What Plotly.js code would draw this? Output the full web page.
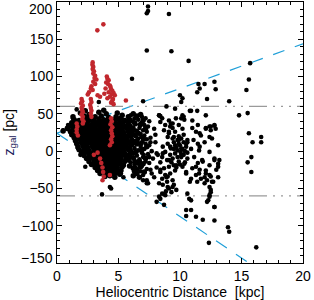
<!DOCTYPE html>
<html>
<head>
<meta charset="utf-8">
<script src="https://cdn.plot.ly/plotly-3.0.1.min.js"></script>
<style>html,body{margin:0;padding:0;background:#fff;}#chart{width:314px;height:300px;}</style>
</head>
<body>
<div id="chart"></div>
<script>
// ---- data ----
const xTicks = [0, 5, 10, 15, 20];
const xTickLabels = ['0', '5', '10', '15', '20'];
const yTicks = [-150, -100, -50, 0, 50, 100, 150, 200];
const yTickLabels = ['\u2212150', '\u2212100', '\u221250', '0', '50', '100', '150', '200'];

// boundary lines: [x, z] end points
const upperWedge = [[0, 24], [20, 144]];
const lowerWedge = [[0, 24], [16.5, -160]];
const zCut = [60, -60];

// dense black clump (heliocentric distance kpc, z pc)
const blackDense = [
[1.9,51],[2.6,49],[3.4,52],[4.0,50],[4.9,51],[5.3,48],[2.3,54],[3.8,55],
[1.3,46],[2.2,47],[2.5,45],[3.1,46],[3.6,47],[4.2,45],[4.8,46],[5.2,44],[5.8,46],
[1.4,42],[1.8,41],[2.3,43],[2.7,42],[3.0,41],[3.4,43],[3.8,42],[4.1,41],[4.7,42],[5.0,43],[5.5,41],[5.9,42],
[1.2,38],[1.6,39],[1.9,37],[2.2,38],[2.5,39],[2.9,37],[3.2,38],[3.5,39],[3.8,37],[4.1,38],[4.4,39],[4.8,37],[5.1,38],[5.4,39],[5.8,37],
[1.0,34],[1.4,35],[1.7,33],[2.0,34],[2.4,35],[2.7,33],[3.0,34],[3.3,35],[3.6,33],[3.9,34],[4.2,35],[4.6,33],[4.9,34],[5.2,35],[5.5,33],[5.9,34],
[0.9,30],[1.3,31],[1.6,29],[1.9,30],[2.2,31],[2.5,29],[2.8,30],[3.1,31],[3.4,29],[3.7,30],[4.0,31],[4.3,29],[4.7,30],[5.0,31],[5.3,29],[5.7,30],[6.0,31],
[0.5,27],[1.1,26],[1.5,27],[1.8,25],[2.1,26],[2.4,27],[2.7,25],[3.0,26],[3.3,27],[3.6,25],[3.9,26],[4.2,27],[4.5,25],[4.8,26],[5.1,27],[5.4,25],[5.8,26],
[1.2,22],[1.6,23],[1.9,21],[2.2,22],[2.5,23],[2.8,21],[3.1,22],[3.4,23],[3.7,21],[4.0,22],[4.3,23],[4.6,21],[4.9,22],[5.2,23],[5.5,21],[5.9,22],
[1.4,18],[1.7,19],[2.0,17],[2.4,18],[2.7,19],[3.0,17],[3.3,18],[3.6,19],[3.9,17],[4.2,18],[4.5,19],[4.8,17],[5.1,18],[5.4,19],[5.7,17],
[1.5,14],[1.9,15],[2.3,13],[2.6,14],[2.9,15],[3.2,13],[3.5,14],[3.8,15],[4.1,13],[4.4,14],[4.7,15],[5.0,13],[5.3,14],[5.6,15],[6.0,13],
[1.6,10],[2.0,11],[2.4,9],[2.8,10],[3.1,11],[3.4,9],[3.7,10],[4.0,11],[4.3,9],[4.6,10],[4.9,11],[5.2,9],[5.5,10],[5.8,11],
[1.7,6],[2.1,7],[2.5,5],[2.9,6],[3.2,7],[3.5,5],[3.8,6],[4.1,7],[4.4,5],[4.7,6],[5.0,7],[5.3,5],[5.6,6],
[1.8,2],[2.2,3],[2.6,1],[3.0,2],[3.3,3],[3.6,1],[3.9,2],[4.2,3],[4.5,1],[4.8,2],[5.1,3],[5.4,1],[5.8,2],
[2.0,-2],[2.4,-1],[2.8,-3],[3.1,-2],[3.4,-1],[3.7,-3],[4.0,-2],[4.3,-1],[4.6,-3],[4.9,-2],[5.2,-1],[5.5,-3],
[2.2,-6],[2.6,-5],[2.9,-7],[3.2,-6],[3.5,-5],[3.8,-7],[4.1,-6],[4.4,-5],[4.7,-7],[5.0,-6],[5.3,-5],[5.7,-7],
[2.4,-10],[2.8,-9],[3.1,-11],[3.4,-10],[3.7,-9],[4.0,-11],[4.3,-10],[4.6,-9],[4.9,-11],[5.2,-10],[5.6,-9],
[2.6,-14],[3.0,-13],[3.3,-15],[3.6,-14],[3.9,-13],[4.2,-15],[4.5,-14],[4.8,-13],[5.1,-15],[5.5,-14],
[2.8,-18],[3.2,-17],[3.5,-19],[3.8,-18],[4.1,-17],[4.4,-19],[4.7,-18],[5.0,-17],[5.4,-19],
[3.1,-22],[3.4,-21],[3.7,-23],[4.0,-22],[4.3,-21],[4.6,-23],[4.9,-22],[5.3,-21],
[3.3,-26],[3.7,-25],[4.0,-27],[4.3,-26],[4.6,-25],[4.9,-27],[5.2,-26],
[3.5,-30],[3.9,-29],[4.2,-31],[4.5,-30],[4.8,-29],[5.1,-31],
[3.9,-34],[4.3,-33],[4.7,-35],
[6.2,50],[6.5,47],[6.8,49],[7.0,41],[6.3,38],[6.8,36],[6.1,28],[6.6,24],[7.2,30],[6.3,22],[7.0,18],[6.5,14],
[6.8,10],[7.3,6],[6.2,11],[6.4,-1],[6.9,2],[7.2,-10],[6.2,-9],[6.7,-14],[6.4,-15],[7.0,-17],[6.2,-23],[6.8,-21],
[7.1,-28],[6.5,-30],[6.3,-27],[5.9,-20],[5.8,-12],[5.9,-4],[5.9,5],[6.0,20],[5.9,27],[6.2,-33],[6.7,-35]
];

// band of stars just beyond the clump (6-8 kpc)
const blackBand = [
[6.0,48],[6.3,44],[6.1,40],[6.6,42],[6.9,38],[6.4,36],[7.1,35],[6.2,32],[6.7,31],[7.0,28],[6.5,27],[7.3,26],
[6.1,24],[6.8,23],[7.1,21],[6.4,20],[6.6,17],[7.0,15],[6.2,14],[6.9,12],[7.2,10],[6.5,9],[6.8,6],[6.3,4],
[7.1,3],[6.6,1],[6.9,-2],[6.2,-3],[7.4,-4],[6.5,-6],[7.0,-8],[6.7,-11],[6.3,-12],[7.2,-14],[6.6,-17],[6.9,-20],
[6.4,-22],[7.3,-24],[6.8,-27],[7.6,-25],[7.0,-32],[7.3,-39],[7.4,-43],[7.7,-30],[6.9,46],[7.2,44],[7.5,40],
[7.4,33],[7.6,18],[7.5,8],[7.7,0],[7.8,-10],[7.5,-16],[6.1,8],[6.0,-8],[6.3,-18],[6.1,16],[6.75,34],[6.45,12],
[7.05,-5],[6.85,19],[6.35,28],[6.05,0],[6.55,-25],[6.0,-15],[7.0,-39],[5.2,-30],[5.4,-35],
[7.5,-8],[7.6,12],[7.3,16]
];

// field stars 8-13.5 kpc
const blackMid = [
[8.3,48],[8.55,44],[8.4,39],[8.8,35],[9.1,41],[9.2,33],[9.4,37],[8.7,28],[9.1,26],[10.1,44],[10.3,46],[9.9,35],
[10.2,30],[9.6,26],[9.0,19],[9.4,17],[9.8,15],[10.1,17],[10.3,12],[10.6,15],[9.9,10],[9.6,8],[9.2,6],[9.5,3],
[9.8,1],[10.2,3],[10.5,6],[10.05,-1],[9.6,-3],[9.2,-5],[8.8,-1],[8.55,-8],[8.95,-12],[9.4,-10],[9.8,-8],[10.3,-5],
[10.6,-10],[9.9,-14],[9.5,-19],[9.1,-21],[8.7,-23],[8.4,-28],[8.8,-32],[9.2,-30],[9.6,-26],[10.2,-21],[10.5,-28],
[8.55,-37],[8.95,-41],[9.4,-39],[8.3,-43],[9.1,-50],[8.55,-57],[8.8,-59],[8.4,-64],[8.1,-68],[8.7,-72],[10.5,-79],
[8.2,-5],[8.4,-15],[8.1,-22],[8.6,-45],[9.0,-48],[9.3,-55],[8.9,-35],[9.5,-45],[9.7,-52],
[7.9,30],[8.0,12],[8.1,-3],[7.9,-35],[8.0,22],
[9.7,5],[10.0,8],[10.4,0],[9.5,12],[10.1,-5],[9.9,20],[10.3,22],[10.6,-2],[9.3,-15],[10.0,-18],[9.7,-22],[10.4,-15],
[10.9,54],[11.4,54],[11.0,41],[12.1,30],[12.5,33],[12.8,34],[12.9,30],[11.3,26],[11.7,21],[11.1,15],[12.0,12],
[12.6,17],[13.1,8],[10.9,3],[11.55,1],[12.4,-1],[11.15,-8],[11.8,-12],[12.8,-10],[13.1,-17],[11.3,-21],[12.1,-26],
[11.55,-30],[12.0,-35],[11.7,-37],[12.4,-32],[12.2,-39],[12.6,-41],[11.4,-41],[10.9,-37],[12.5,-52],[12.4,-59],
[12.2,-68],[12.8,-75],[13.1,-35],
[11.45,-16],[11.85,-14],[12.4,-19],[12.8,-12],[13.1,-21],[11.6,-25],[12.1,-30],[12.5,-34],[11.3,-32],[12.0,-43],
[12.7,-41],[12.4,-48],[13.2,-12],[12.95,-25],[8.6,-3],[9.1,-12],[8.4,-25],[9.0,-34],[9.4,-48],[8.85,-54],[8.3,-61],
[9.7,-19],[10.1,-8],[10.5,-30],[10.8,-41],[11.0,-23],[10.35,-17],[10.6,-57],[10.9,-66],[10.75,-64],[12.3,-66],
[12.4,-61],[12.5,-55],[12.8,-75],
[9.26,37],[9.67,44],[10.2,48],[10.35,42],[9.4,31],[9.1,24],[9.5,19],[9.0,10],[8.6,6],[9.9,15],[10.5,10],[10.6,12],
[11.0,31],[11.45,35],[11.6,24],[12.1,31],[12.4,33],[12.5,28],[12.8,35],[12.4,19],[11.45,10],[11.6,6],[9.26,3.5],[10.1,3.5],
[8.3,48],[8.4,47],[10.8,54],[12.1,48]
];

// sparse outliers
const blackSparse = [
[7.4,194],[7.3,185],[7.4,188],[7.3,135],[6.1,97],[7.0,67],[9.1,184],[9.3,134],[10.7,121],[11.5,90],[11.6,84],
[11.4,79],[12.0,90],[12.8,93],[12.9,83],[12.2,70],[14.0,67],[15.7,118],[15.6,96],[15.4,82],[10.0,75],[10.2,71],
[10.1,66],[8.9,60],[9.6,57],[3.4,66],[1.6,56],
[14.8,48],[15.5,51],[15.6,24],[15.9,12],[16.6,12],[16.6,19],
[15.5,-15],[15.8,-8],[15.8,-28],
[10.9,-79],[10.5,-87],[11.3,-88],[11.85,-92],[12.8,-93],[13.9,-102],[14.0,-108],[16.2,-129],[12.35,-123],
[0.5,28],[0.9,35],[1.3,44],[1.2,37],[1.3,21],[0.8,31],[1.9,-5],[2.3,-21],[2.0,-1],[1.7,4],
[3.66,-58],[4.3,-48],[4.4,-50],[7.3,-43]
];

// red sample
const redPts = [
[3.77,170],[3.28,162],
[2.9,119],[2.88,116],[2.95,113],[2.9,110],[3.0,107],[2.95,104],[3.1,101],[3.05,98],[3.2,96],[2.95,93],[3.1,90],
[2.8,87],[2.75,84],[2.9,82],[2.6,79],[2.5,76],[3.3,75],[3.5,73],
[4.05,100],[4.1,97],[4.2,95],[4.0,92],[4.15,90],[4.3,88],[4.35,86],[3.95,84],[4.4,83],[4.5,81],[4.2,79],[4.6,78],
[3.85,77],[4.45,76],[4.7,75],[4.3,73],[4.1,71],[4.55,70],[4.5,68],[4.4,65],[4.6,63],[5.6,68],
[2.0,70],[2.05,67],[1.95,64],[2.1,61],[2.0,58],[2.05,55],[2.1,52],[2.0,49],[2.1,46],[2.05,43],[2.15,40],[2.1,37],
[2.75,70],[2.8,66],[2.7,62],[2.75,58],[2.8,54],[2.75,50],[2.8,46],
[1.6,37],[1.65,33],[1.6,29],[1.6,25],[1.7,21],
[4.4,44],[4.45,40],[4.35,36],[4.5,32],[4.4,28],[4.45,24],[4.5,20],[4.4,16],[4.45,12],[4.3,8],
[3.5,-10],[3.6,-16],[3.7,-22],[3.75,-28],[3.8,-34],[3.7,-39],[4.3,-32],[3.0,-5],[3.3,-2]
];

// ---- build ----
const blackOther = blackBand.concat(blackMid, blackSparse);
const col = (arr, i) => arr.map(p => p[i]);

const traces = [
  {x: col(upperWedge,0), y: col(upperWedge,1), mode:'lines', line:{color:'#1f9fd8', width:1.2, dash:'12px,11px'}, hoverinfo:'skip'},
  {x: col(lowerWedge,0), y: col(lowerWedge,1), mode:'lines', line:{color:'#1f9fd8', width:1.2, dash:'13px,11px'}, hoverinfo:'skip'},
  {x: [0, 20], y: [zCut[0], zCut[0]], mode:'lines', line:{color:'#9a9a9a', width:1.2, dash:'18px,6px,2px,6px,2px,6px,2px,6px'}, hoverinfo:'skip'},
  {x: [0, 20], y: [zCut[1], zCut[1]], mode:'lines', line:{color:'#9a9a9a', width:1.2, dash:'18px,6px,2px,6px,2px,6px,2px,6px'}, hoverinfo:'skip'},
  {x: col(blackDense,0), y: col(blackDense,1), mode:'markers', marker:{color:'#000', size:5.5}},
  {x: col(blackOther,0), y: col(blackOther,1), mode:'markers', marker:{color:'#000', size:4.6}},
  {x: col(redPts,0), y: col(redPts,1), mode:'markers', marker:{color:'#c1272d', size:4.6}}
];

const fontFam = 'Liberation Sans, Arial, Helvetica, sans-serif';
const axisCommon = {
  ticks:'inside', ticklen:5, tickwidth:1, tickcolor:'#000',
  showline:true, linecolor:'#000', linewidth:1, mirror:'allticks',
  showgrid:false, zeroline:false, tickfont:{family:fontFam, size:14, color:'#000'}
};

// end labels (200, -150) are nudged inside the frame as in the reference
const isEnd = v => v === 200 || v === -150;
const yInnerVals = yTicks.filter(v => !isEnd(v));
const yInnerText = yTickLabels.filter((t, i) => !isEnd(yTicks[i]));

const layout = {
  width:314, height:300,
  margin:{l:57, r:11, t:2, b:37, pad:0},
  paper_bgcolor:'#fff', plot_bgcolor:'#fff',
  showlegend:false,
  font:{family:fontFam, size:14, color:'#000'},
  xaxis: Object.assign({}, axisCommon, {
    range:[0,20], tickmode:'array', tickvals:xTicks, ticktext:xTickLabels,
    minor:{tickmode:'linear', tick0:0, dtick:1, ticks:'inside', ticklen:3, tickcolor:'#000', showgrid:false},
    title:{text:'Heliocentric Distance\u00a0 [kpc]', font:{family:fontFam, size:14, color:'#000'}, standoff:0}
  }),
  yaxis: Object.assign({}, axisCommon, {
    range:[-150,200], tickmode:'array', tickvals:yInnerVals, ticktext:yInnerText,
    minor:{tickmode:'linear', tick0:0, dtick:10, ticks:'inside', ticklen:3, tickcolor:'#000', showgrid:false}
  }),
  annotations: [
    {xref:'paper', yref:'y', x:0, y:200, xanchor:'right', yanchor:'top', xshift:-3, yshift:2, borderpad:0, showarrow:false,
     text:yTickLabels[yTicks.indexOf(200)], font:{family:fontFam, size:14, color:'#000'}},
    {xref:'paper', yref:'y', x:0, y:-150, xanchor:'right', yanchor:'middle', xshift:-3, yshift:5, borderpad:0, showarrow:false,
     text:yTickLabels[yTicks.indexOf(-150)], font:{family:fontFam, size:14, color:'#000'}},
    {xref:'paper', yref:'paper', x:-0.195, y:0.5, xanchor:'center', yanchor:'middle', textangle:-90, showarrow:false,
     text:'<span style="color:#1c1c5c">z<sub>gal</sub></span> [pc]', font:{family:fontFam, size:14, color:'#000'}}
  ]
};

Plotly.newPlot('chart', traces, layout, {staticPlot:true, displayModeBar:false});
</script>
</body>
</html>
